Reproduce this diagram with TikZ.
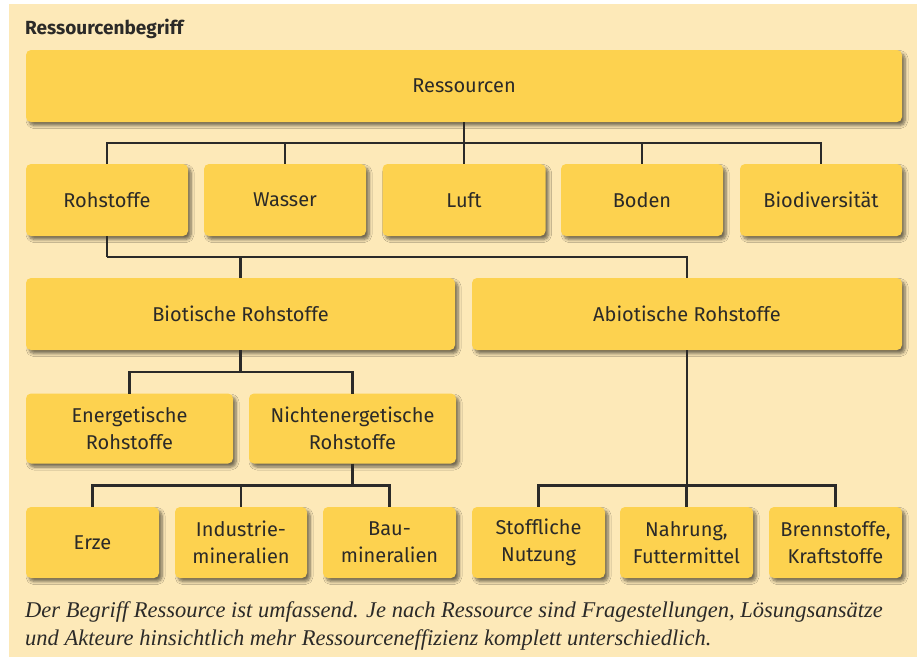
\documentclass[tikz,border=0pt]{standalone}
\usepackage{fontspec}
\setsansfont{Fira Sans}
\newfontfamily\captionfont{Liberation Serif}
\usetikzlibrary{shadows.blur}
\definecolor{paper}{HTML}{FDE9B8}
\definecolor{boxfill}{HTML}{FDD24F}
\definecolor{ink}{HTML}{2B2A28}
\tikzset{
  rbox/.style={fill=boxfill, rounded corners=5pt, minimum height=72pt, inner sep=2pt,
    outer sep=0pt, align=center, text=ink, font=\sffamily\fontsize{20}{27}\selectfont,
    blur shadow={shadow xshift=3pt, shadow yshift=-3.5pt, shadow blur steps=6,
      shadow blur radius=3pt, shadow opacity=55}},
  link/.style={draw=ink, line width=2.6pt},
  captext/.style={anchor=base west, inner sep=0pt, text=ink,
    font=\captionfont\itshape\fontsize{22.5}{28}\selectfont},
}
\begin{document}
\begin{tikzpicture}[x=1pt,y=-1pt]
\useasboundingbox (0,0) rectangle (922,657);
\fill[paper] (9,4) rectangle (917,657);
\node[anchor=base west, inner sep=0pt, text=ink, font=\sffamily\bfseries\fontsize{19}{22}\selectfont] (title) at (25,34) {Ressourcenbegriff};

% top level
\node[rbox, minimum width=876pt] (res) at (464,86) {Ressourcen};

% second row
\node[rbox, minimum width=162pt] (roh) at (107,200) {Rohstoffe};
\node[rbox, minimum width=162pt] (wasser) at (285,200) {Wasser};
\node[rbox, minimum width=163pt] (luft) at (464,200) {Luft};
\node[rbox, minimum width=162pt] (boden) at (642,200) {Boden};
\node[rbox, minimum width=162pt] (bio) at (821,200) {Biodiversität};

% third row
\node[rbox, minimum width=429pt] (biot) at (240.5,314) {Biotische Rohstoffe};
\node[rbox, minimum width=430pt] (abiot) at (687,314) {Abiotische Rohstoffe};

% fourth row
\node[rbox, minimum width=207pt, minimum height=70pt] (energ) at (129.5,428.5) {Energetische\\Rohstoffe};
\node[rbox, minimum width=207pt, minimum height=70pt] (nenerg) at (352.5,428.5) {Nichtenergetische\\Rohstoffe};

% bottom row
\node[rbox, minimum width=133pt, minimum height=71pt] (erze) at (92.5,542.5) {Erze};
\node[rbox, minimum width=132pt, minimum height=71pt] (indu) at (241,542.5) {Industrie-\\mineralien};
\node[rbox, minimum width=133pt, minimum height=71pt] (bau) at (389.5,542.5) {Bau-\\mineralien};
\node[rbox, minimum width=133pt, minimum height=71pt] (stoff) at (538.5,542.5) {Stoffliche\\Nutzung};
\node[rbox, minimum width=133pt, minimum height=71pt] (nahr) at (686.5,542.5) {Nahrung,\\Futtermittel};
\node[rbox, minimum width=133pt, minimum height=71pt] (brenn) at (835.5,542.5) {Brennstoffe,\\Kraftstoffe};

% connectors
\draw[link] (res.south) -- ++(0,21) coordinate (j1);
\foreach \n in {roh,wasser,luft,boden,bio}
  \draw[link] (j1) -| (\n.north);
\draw[link] (roh.south) -- ++(0,21) coordinate (j2);
\foreach \n in {biot,abiot}
  \draw[link] (j2) -| (\n.north);
\draw[link] (biot.south) -- ++(0,22) coordinate (j3);
\foreach \n in {energ,nenerg}
  \draw[link] (j3) -| (\n.north);
\draw[link] (nenerg.south) -- ++(0,22) coordinate (j4);
\foreach \n in {erze,indu,bau}
  \draw[link] (j4) -| (\n.north);
\draw[link] (abiot.south) -- (abiot.south |- j4) coordinate (j5);
\foreach \n in {stoff,nahr,brenn}
  \draw[link] (j5) -| (\n.north);

% caption
\node[captext] (cap1) at (25,617)
  {Der Begriff Ressource ist umfassend. Je nach Ressource sind Fragestellungen, Lösungsansätze};
\node[captext] (cap2) at (25,645)
  {und Akteure hinsichtlich mehr Ressourceneffizienz komplett unterschiedlich.};
\end{tikzpicture}
\end{document}
